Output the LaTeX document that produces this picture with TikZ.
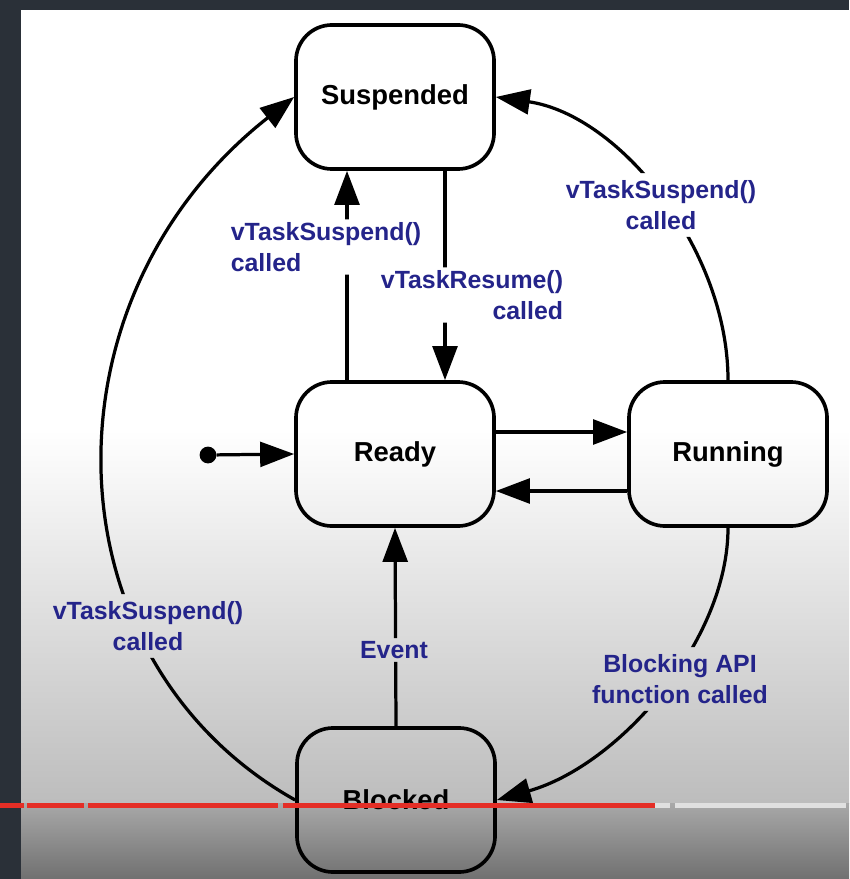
\documentclass[tikz,border=0pt]{standalone}
\usepackage{fontspec}
\setmainfont{Liberation Sans}
\usetikzlibrary{arrows.meta}
\definecolor{lblblue}{RGB}{36,36,138}
\definecolor{framegrey}{RGB}{42,48,56}
\definecolor{ytred}{RGB}{228,46,38}

\begin{document}
\begin{tikzpicture}[
    x=0.025cm, y=-0.025cm,
    state/.style={draw, line width=2.6pt, rounded corners=0.9cm, minimum width=4.95cm, minimum height=3.6cm, font=\fontsize{19.5}{23}\selectfont\bfseries},
    lbl/.style={text=lblblue, font=\fontsize{17.7}{22}\selectfont\bfseries, inner sep=2pt},
    arr/.style={line width=2.3pt, -{Triangle[length=0.85cm, width=0.62cm]}},
]
\useasboundingbox (0,0) rectangle (849,879);

% Background (video frame)
\fill[white] (21,10) rectangle (849,430);
\shade[top color=white, bottom color=black!26] (21,430) rectangle (849,803);
\shade[top color=black!34, bottom color=black!56] (21,803) rectangle (849,879);
\fill[framegrey] (0,0) rectangle (21,879);
\fill[framegrey] (0,0) rectangle (849,10);

% States
\node[state] (susp) at (395,97) {Suspended};
\node[state] (rdy) at (395,454) {Ready};
\node[state] (run) at (728,454) {Running};
\node[state] (blk) at (396,800) {Blocked};
\node[circle, fill, inner sep=0pt, minimum size=0.42cm] (init) at (208,455) {};

% Labels
\node[lbl, align=left] (lsuspr) at (326,247) {vTaskSuspend()\\called};
\node[lbl, align=right] (lres) at (472,295) {vTaskResume()\\called};
\node[lbl, align=center, inner sep=5pt] (lsuspn) at (661,205) {vTaskSuspend()\\called};
\node[lbl, align=center, inner sep=5pt] (lsuspb) at (148,626) {vTaskSuspend()\\called};
\node[lbl] (levt) at (394,650) {Event};
\node[lbl, align=center, inner sep=5pt] (lblk) at (680,679) {Blocking API\\function called};

% Transitions (cut where the labels sit)
\begin{scope}[even odd rule]
\clip (0,0) rectangle (849,879)
    (lsuspr.south west) rectangle (lsuspr.north east)
    (lres.south west) rectangle (lres.north east)
    (lsuspn.south west) rectangle (lsuspn.north east)
    (lsuspb.south west) rectangle (lsuspb.north east)
    (levt.south west) rectangle (levt.north east)
    (lblk.south west) rectangle (lblk.north east);
\draw[arr] (init) -- (rdy.west);
\draw[arr] (rdy.east |- 0,432) -- (run.west |- 0,432);
\draw[arr] (run.west |- 0,491) -- (rdy.east |- 0,491);
\draw[arr] (347,0 |- rdy.north) -- (347,0 |- susp.south);
\draw[arr] (445,0 |- susp.south) -- (445,0 |- rdy.north);
\draw[arr] (blk.north) -- (rdy.south);
\draw[arr] (run.north) .. controls (728,250) and (620,115) .. (susp.east);
\draw[arr] (run.south) .. controls (728,640) and (620,765) .. (blk.east);
\draw[arr] (blk.west) .. controls (46,660) and (36,300) .. (susp.west);
\end{scope}

% Progress bar
\foreach \a/\b in {0/24, 27/84, 88/278, 283/655}
  \fill[ytred] (\a,803) rectangle (\b,808);
\foreach \a/\b in {655/670, 675/846}
  \fill[black!12] (\a,803) rectangle (\b,808);
\end{tikzpicture}
\end{document}
